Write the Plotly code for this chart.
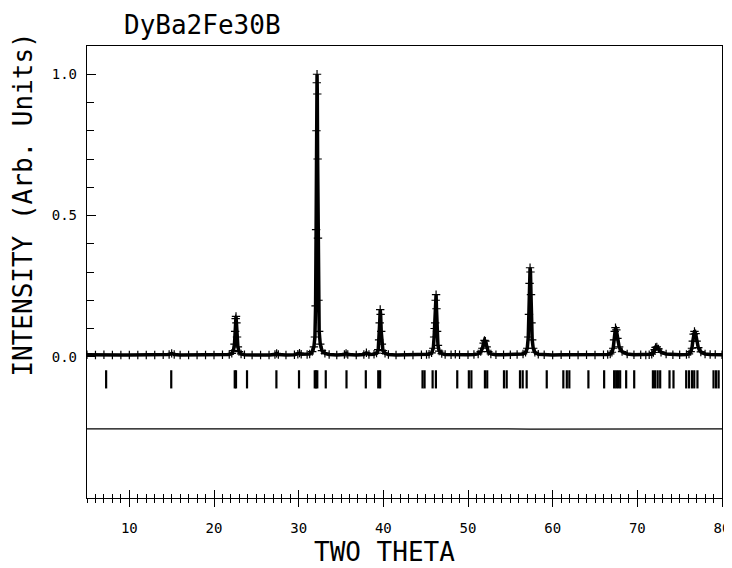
import plotly.graph_objects as go

# ---------------- data ----------------
title_text = "DyBa2Fe30B"
x_title = "TWO THETA"
y_title = "INTENSITY (Arb. Units)"

x_ticks = [10, 20, 30, 40, 50, 60, 70, 80]
y_tickvals = [0.0, 0.5, 1.0]
y_ticktext = ["0.0", "0.5", "1.0"]
y_minor = [0.1, 0.2, 0.3, 0.4, 0.6, 0.7, 0.8, 0.9]

# observed profile (2theta, normalised intensity)
obs_two_theta = [
    5.0, 6.0, 7.0, 8.0, 9.0, 10.0, 11.0, 12.0, 13.0, 14.0, 14.7, 15.0, 15.3, 16.0, 17.0,
    18.0, 19.0, 20.0, 21.0,
    21.8, 22.1, 22.3, 22.42, 22.5, 22.56, 22.6, 22.65, 22.72, 22.82, 22.95, 23.2, 23.6,
    24.5, 25.5, 26.5, 27.2, 27.4, 27.6, 28.5, 29.5, 29.9, 30.1, 30.3, 31.0,
    31.3, 31.6, 31.8, 31.92, 32.0, 32.06, 32.1, 32.14, 32.17, 32.2, 32.24, 32.28, 32.34,
    32.42, 32.55, 32.75, 33.1, 33.6, 34.5, 35.4, 35.6, 35.8, 36.8, 37.7, 38.0, 38.3,
    38.9, 39.2, 39.4, 39.5, 39.57, 39.63, 39.68, 39.75, 39.83, 39.95, 40.2, 40.6,
    41.5, 42.5, 43.5, 44.5, 45.1,
    45.4, 45.7, 45.9, 46.0, 46.06, 46.12, 46.18, 46.23, 46.28, 46.35, 46.45, 46.6, 46.9,
    47.3, 48.0, 48.5, 49.0, 50.0, 50.7,
    51.2, 51.5, 51.7, 51.85, 51.95, 52.05, 52.2, 52.4, 52.7,
    53.3, 54.2, 55.0, 55.8,
    56.5, 56.8, 57.0, 57.12, 57.2, 57.27, 57.33, 57.38, 57.44, 57.5, 57.58, 57.7, 57.9,
    58.3, 59.0, 60.0, 61.0, 62.0, 63.0, 64.0, 65.0, 66.0,
    66.5, 66.8, 67.0, 67.15, 67.25, 67.33, 67.42, 67.52, 67.65, 67.85, 68.2,
    68.8, 69.6, 70.4, 71.0,
    71.4, 71.7, 71.9, 72.05, 72.15, 72.3, 72.5, 72.8,
    73.4, 74.2, 75.0,
    75.8, 76.1, 76.3, 76.45, 76.55, 76.65, 76.75, 76.88, 77.0, 77.2, 77.5,
    78.0, 78.6, 79.2, 80.0,
]
obs_intensity = [
    0.007, 0.006, 0.007, 0.006, 0.006, 0.006, 0.006, 0.006, 0.006, 0.007, 0.008, 0.012, 0.008, 0.006, 0.006,
    0.006, 0.006, 0.006, 0.007,
    0.008, 0.012, 0.022, 0.045, 0.09, 0.135, 0.143, 0.12, 0.07, 0.035, 0.018, 0.010, 0.007,
    0.006, 0.006, 0.006, 0.008, 0.012, 0.008, 0.006, 0.007, 0.009, 0.013, 0.009, 0.008,
    0.010, 0.018, 0.035, 0.07, 0.18, 0.45, 0.80, 0.97, 1.0, 0.93, 0.70, 0.42, 0.20,
    0.09, 0.045, 0.022, 0.012, 0.008, 0.006, 0.008, 0.012, 0.008, 0.006, 0.008, 0.014, 0.008,
    0.009, 0.013, 0.025, 0.06, 0.12, 0.167, 0.15, 0.09, 0.045, 0.022, 0.012, 0.008,
    0.006, 0.006, 0.006, 0.007, 0.008,
    0.009, 0.014, 0.03, 0.07, 0.10, 0.12, 0.20, 0.22, 0.17, 0.09, 0.04, 0.02, 0.011,
    0.008, 0.007, 0.009, 0.007, 0.007, 0.008,
    0.010, 0.018, 0.03, 0.048, 0.058, 0.055, 0.035, 0.018, 0.010,
    0.007, 0.007, 0.007, 0.008,
    0.010, 0.016, 0.03, 0.07, 0.15, 0.26, 0.315, 0.30, 0.22, 0.12, 0.06, 0.03, 0.016,
    0.009, 0.007, 0.006, 0.007, 0.007, 0.006, 0.007, 0.006, 0.007, 0.008,
    0.010, 0.016, 0.03, 0.06, 0.09, 0.103, 0.095, 0.065, 0.035, 0.018, 0.010,
    0.007, 0.007, 0.006, 0.007,
    0.009, 0.015, 0.025, 0.033, 0.035, 0.028, 0.016, 0.010,
    0.007, 0.007, 0.008,
    0.010, 0.018, 0.03, 0.055, 0.08, 0.09, 0.082, 0.055, 0.032, 0.017, 0.010,
    0.008, 0.008, 0.007, 0.007,
]

# Bragg reflection positions (2theta)
bragg_positions = [
    7.26, 14.95, 22.45, 22.6, 23.9, 27.37, 30.04, 31.9, 32.05, 32.2, 33.2, 35.65,
    37.93, 39.4, 39.62, 44.63, 44.87, 45.82, 46.21, 48.73, 50.1, 50.4, 52.0, 52.27,
    54.25, 54.57, 56.14, 56.46, 56.93, 59.3, 61.26, 61.67, 61.97, 64.22, 66.08,
    67.26, 67.5, 67.73, 67.97, 68.68, 69.63, 71.84, 72.1, 72.4, 72.7, 73.8, 74.27,
    75.77, 76.1, 76.45, 76.72, 77.1, 79.0, 79.3, 79.6,
]
bragg_level = -0.08

# difference curve (obs - calc), plotted with an offset
diff_offset = -0.255
diff_two_theta = [5.0, 22.6, 32.15, 39.65, 46.2, 52.0, 57.35, 67.35, 72.15, 76.65, 80.0]
diff_values = [0.0, 0.0, 0.002, 0.0, 0.001, 0.0, -0.001, 0.0, 0.0, 0.001, 0.0]

x_range = [5, 80]
y_range = [-0.5, 1.1]

# ---------------- figure ----------------
FONT = "DejaVu Sans Mono"
fig = go.Figure()

fig.add_trace(go.Scatter(
    x=obs_two_theta, y=obs_intensity, mode="lines+markers",
    line=dict(color="black", width=3.5),
    marker=dict(symbol="cross-thin", size=6, line=dict(color="black", width=1.2)),
    showlegend=False, hoverinfo="skip",
))

fig.add_trace(go.Scatter(
    x=bragg_positions, y=[bragg_level] * len(bragg_positions), mode="markers",
    marker=dict(symbol="line-ns", size=13, line=dict(color="black", width=2.2)),
    showlegend=False, hoverinfo="skip",
))

fig.add_trace(go.Scatter(
    x=diff_two_theta, y=[diff_offset + d for d in diff_values], mode="lines",
    line=dict(color="black", width=1.2),
    xaxis="x2", showlegend=False, hoverinfo="skip",
))

tickfont = dict(family=FONT, size=14, color="black")

# the page body has an 8 px margin, so the figure is 8 px smaller in each direction
fig.update_layout(
    width=724, height=560,
    margin=dict(l=79, r=10, t=38, b=70, autoexpand=False),
    paper_bgcolor="white", plot_bgcolor="white",
    showlegend=False,
    xaxis=dict(
        range=x_range, showgrid=False, zeroline=False, automargin=False,
        showline=True, linecolor="black", linewidth=1.3, mirror=True,
        tickmode="array", tickvals=x_ticks,
        ticks="outside", ticklen=8, tickwidth=1.3, tickcolor="black",
        minor=dict(dtick=1, tick0=0, ticks="outside", ticklen=4, tickwidth=1, tickcolor="black"),
        tickfont=tickfont, ticklabelstandoff=9, ticklabeloverflow="allow",
    ),
    xaxis2=dict(
        range=x_range, matches="x", overlaying="x", anchor="y", side="bottom",
        showgrid=False, zeroline=False, showline=False, showticklabels=False,
        tickmode="array", tickvals=x_ticks, automargin=False,
        ticks="inside", ticklen=8, tickwidth=1.3, tickcolor="black",
        minor=dict(dtick=1, tick0=0, ticks="inside", ticklen=4, tickwidth=1, tickcolor="black"),
    ),
    yaxis=dict(
        range=y_range, showgrid=False, zeroline=False, automargin=False,
        showline=True, linecolor="black", linewidth=1.3, mirror=True,
        tickmode="array", tickvals=y_tickvals, ticktext=y_ticktext,
        ticks="inside", ticklen=9, tickwidth=1.2, tickcolor="black",
        minor=dict(tickmode="array", tickvals=y_minor, ticks="inside", ticklen=7,
                   tickwidth=1, tickcolor="black"),
        tickfont=tickfont, ticklabelstandoff=6,
    ),
    annotations=[
        dict(text=title_text, xref="paper", yref="paper", x=0.055, y=1.046,
             xanchor="left", yanchor="middle", showarrow=False,
             font=dict(family=FONT, size=26, color="black")),
        dict(text=x_title, xref="paper", yref="paper", x=0.468, y=-0.119,
             xanchor="center", yanchor="middle", showarrow=False,
             font=dict(family=FONT, size=26, color="black")),
        dict(text=y_title, xref="paper", yref="paper", x=-0.1, y=0.648,
             xanchor="center", yanchor="middle", textangle=-90, showarrow=False,
             font=dict(family=FONT, size=26, color="black")),
    ],
)

fig.write_html("out.html")
